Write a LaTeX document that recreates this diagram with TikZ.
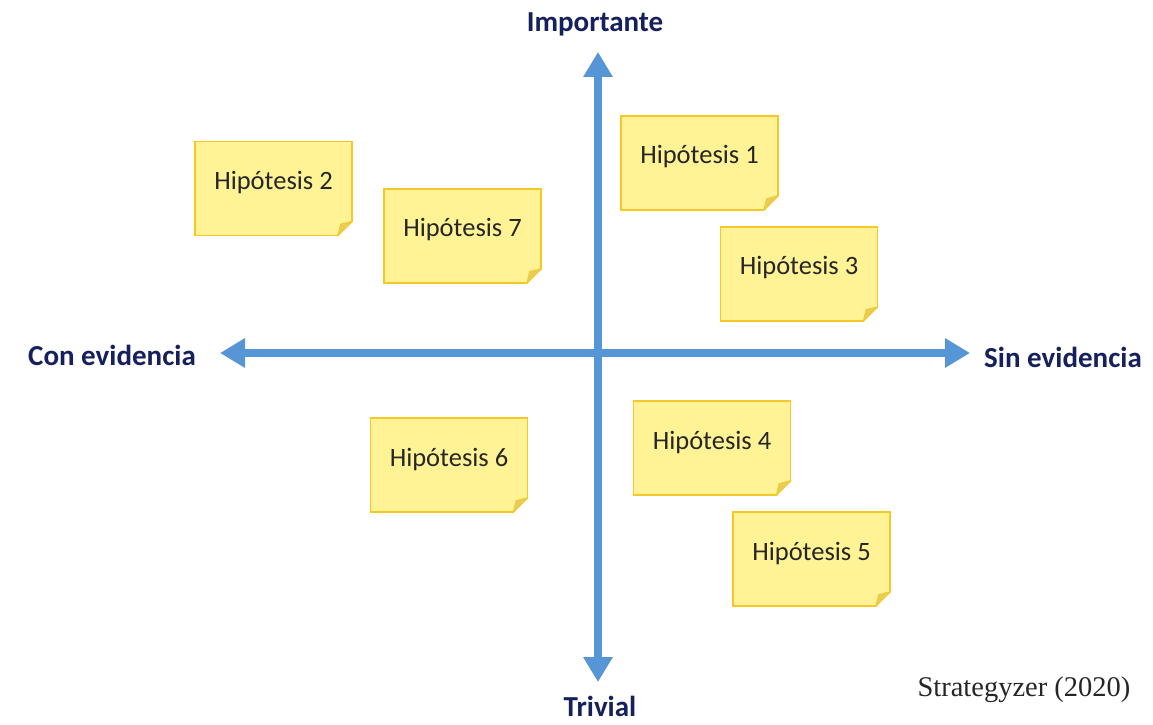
\documentclass[tikz,border=0pt]{standalone}
\usepackage{fontspec}
\setmainfont{Carlito}
\newfontfamily\refserif{Liberation Serif}
\usetikzlibrary{arrows.meta}
\definecolor{noteyellow}{RGB}{255,243,150}
\definecolor{noteborder}{RGB}{245,200,40}
\definecolor{notefold}{RGB}{230,205,90}
\definecolor{axisblue}{RGB}{86,150,214}
\definecolor{labelnavy}{RGB}{22,32,92}
\begin{document}
\begin{tikzpicture}[x=1pt,y=1pt,
  note/.style={draw=noteborder, fill=noteyellow, line width=1.2pt,
    minimum width=157pt, minimum height=94pt, inner sep=0pt,
    font=\fontsize{26.5}{30}\selectfont, text=black!85,
    text height=17pt, text depth=15pt},
  axislabel/.style={font=\bfseries\fontsize{29}{34}\selectfont, text=labelnavy},
  axisline/.style={draw=axisblue, line width=8pt,
    {Triangle[width=28pt,length=25pt]}-{Triangle[width=28pt,length=25pt]}}
]
\useasboundingbox (0,0) rectangle (1153,724);
\fill[white] (0,0) rectangle (1153,724);

% axes
\coordinate (L) at (220,371);
\coordinate (R) at (970,371);
\coordinate (T) at (598,672);
\coordinate (B) at (598,42);
\draw[axisline] (L) -- (R);
\draw[axisline] (B) -- (T);

% notes
\node[note] (h2) at (273.5,535.5) {Hipótesis 2};
\node[note] (h7) at (462.5,488) {Hipótesis 7};
\node[note] (h1) at (699.5,561) {Hipótesis 1};
\node[note] (h3) at (799,450) {Hipótesis 3};
\node[note] (h6) at (449,259) {Hipótesis 6};
\node[note] (h4) at (712,276) {Hipótesis 4};
\node[note] (h5) at (811.5,165) {Hipótesis 5};

\foreach \n in {h1,h2,h3,h4,h5,h6,h7}{
  \fill[white] ([xshift=-15pt,yshift=-1pt]\n.south east) -- ([xshift=1pt,yshift=-1pt]\n.south east) -- ([xshift=1pt,yshift=15pt]\n.south east) -- cycle;
  \filldraw[fill=notefold, draw=noteborder, line width=0.8pt, line join=round]
    ([xshift=-15pt]\n.south east) -- ([yshift=15pt]\n.south east) -- ([xshift=-12pt,yshift=12pt]\n.south east) -- cycle;
}

% labels
\node[axislabel] (imp) at (595,700) {Importante};
\node[axislabel] (triv) at (600,18) {Trivial};
\node[axislabel] (con) at (112,369) {Con evidencia};
\node[axislabel] (sin) at (1063,367) {Sin evidencia};
\node[font=\refserif\fontsize{28.5}{32}\selectfont, text=black!85] (src) at (1024,34) {Strategyzer (2020)};
\end{tikzpicture}
\end{document}
